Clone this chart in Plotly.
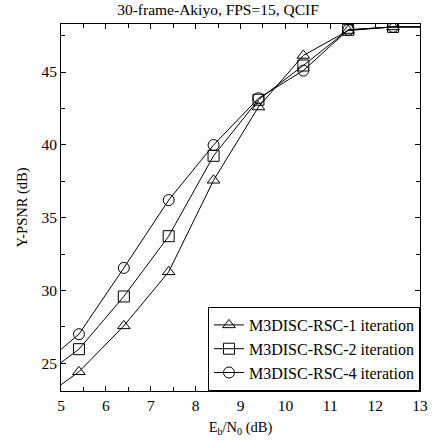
import plotly.graph_objects as go

ebn0 = [4.4, 5.4, 6.4, 7.4, 8.4, 9.4, 10.4, 11.4, 12.4, 13.4]
psnr_1iter = [22.2, 24.42, 27.57, 31.28, 37.57, 42.6, 46.14, 47.85, 48.1, 48.1]
psnr_2iter = [23.67, 25.97, 29.59, 33.73, 39.25, 43.1, 45.45, 47.9, 48.1, 48.1]
psnr_4iter = [24.4, 27.0, 31.55, 36.21, 39.99, 43.2, 45.1, 47.9, 48.1, 48.1]

names = ["M3DISC-RSC-1 iteration", "M3DISC-RSC-2 iteration", "M3DISC-RSC-4 iteration"]
symbols = ["triangle-up-open", "square-open", "circle-open"]
series = [psnr_1iter, psnr_2iter, psnr_4iter]

font_family = "Liberation Serif"

fig = go.Figure()
for name, sym, ys in zip(names, symbols, series):
    fig.add_trace(go.Scatter(
        x=ebn0, y=ys, mode="lines+markers", name=name,
        line=dict(color="black", width=1),
        marker=dict(symbol=sym, size=11, color="black", line=dict(width=1, color="black")),
        cliponaxis=True,
    ))

axis_common = dict(
    showline=True, linecolor="black", linewidth=1, mirror="ticks",
    ticks="inside", ticklen=5, tickcolor="black", showgrid=False, zeroline=False,
    tickfont=dict(family=font_family, size=15.5, color="black"),
)

fig.update_layout(
    width=436, height=445,
    margin=dict(l=61, r=8, t=24, b=54),
    paper_bgcolor="white", plot_bgcolor="white",
    font=dict(family=font_family, size=14, color="black"),
    title=dict(text="30-frame-Akiyo, FPS=15, QCIF", x=0.5, xanchor="center", y=0.99, yanchor="top",
               font=dict(family=font_family, size=15.5, color="black")),
    xaxis=dict(range=[5, 13], dtick=1, tick0=5,
               minor=dict(dtick=0.5, ticks="inside", ticklen=4, tickcolor="black"),
               title=dict(text="E<sub>b</sub>/N<sub>0</sub> (dB)", standoff=9,
                          font=dict(family=font_family, size=14.5)),
               **axis_common),
    yaxis=dict(range=[23.1, 48.3], dtick=5, tick0=25,
               minor=dict(dtick=2.5, ticks="inside", ticklen=4, tickcolor="black"),
               title=dict(text="Y-PSNR (dB)", standoff=10,
                          font=dict(family=font_family, size=14.5)),
               **axis_common),
    legend=dict(x=1, y=0, xanchor="right", yanchor="bottom",
                bgcolor="white", bordercolor="black", borderwidth=1,
                font=dict(family=font_family, size=16, color="black"),
                tracegroupgap=0, itemwidth=30),
    showlegend=True,
)

fig.write_html("out.html")
